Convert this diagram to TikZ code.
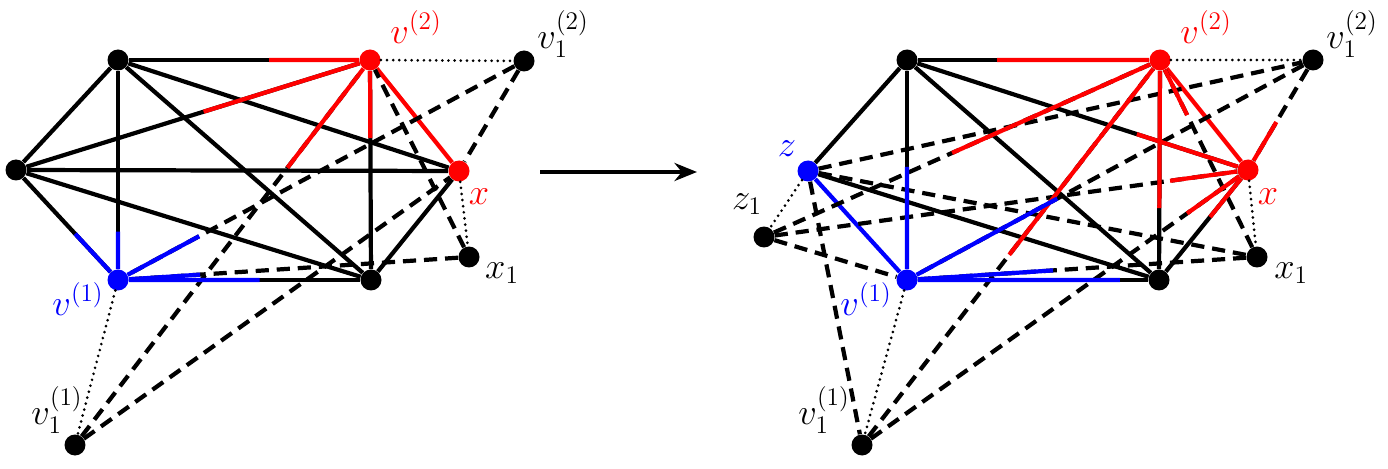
\documentclass[tikz,border=0pt]{standalone}
\usepackage{amsmath}
\usepackage{xcolor}
\usetikzlibrary{arrows.meta,calc}

\begin{document}
\begin{tikzpicture}[x=0.02cm,y=-0.02cm,>={Stealth[length=4.5mm,width=3.6mm]},
  vtx/.style={circle,fill=black,inner sep=0pt,minimum size=0.42cm},
  edge/.style={line width=2.4pt},
  dashedge/.style={line width=2.4pt,dash pattern=on 7.5pt off 4.5pt},
  dotedge/.style={line width=1.7pt,line cap=round,dash pattern=on 0pt off 3.5pt},
  lbl/.style={font=\huge}]
  \useasboundingbox (0,0) rectangle (1388,469);

  % left graph
  \node[vtx] (a) at (118,60) {};
  \node[vtx,fill=red] (v2) at (370,60) {};
  \node[vtx] (v21) at (524,61) {};
  \node[vtx] (b) at (16,170) {};
  \node[vtx,fill=red] (x) at (459,171) {};
  \node[vtx] (x1) at (469,257) {};
  \node[vtx,fill=blue] (v1) at (118,280) {};
  \node[vtx] (c) at (371,280) {};
  \node[vtx] (v11) at (75,445) {};

  \node[lbl,red] (lv2) at (416,27) {$v^{(2)}$};
  \node[lbl] (lv21) at (563,34) {$v_1^{(2)}$};
  \node[lbl,red] (lx) at (479,197) {$x$};
  \node[lbl] (lx1) at (502,273) {$x_1$};
  \node[lbl,blue] (lv1) at (78,299) {$v^{(1)}$};
  \node[lbl] (lv11) at (57,410) {$v_1^{(1)}$};

  \draw[edge] (a) -- (b);
  \draw[edge] (a) -- (v1);
  \draw[edge] (a) -- (c);
  \draw[edge] (a) -- (x);
  \draw[edge] (a) -- (v2);
  \draw[edge] (b) -- (v1);
  \draw[edge] (b) -- (c);
  \draw[edge] (b) -- (x);
  \draw[edge] (b) -- (v2);
  \draw[edge] (v1) -- (c);
  \draw[edge] (c) -- (x);
  \draw[edge] (c) -- (v2);
  \draw[edge,red] (x) -- (v2);

  \draw[dashedge] (v21) -- (x);
  \draw[dashedge] (v21) -- (v1);
  \draw[dashedge] (v11) -- (v2);
  \draw[dashedge] (v11) -- (x);
  \draw[dashedge] (x1) -- (v2);
  \draw[dashedge] (x1) -- (v1);

  \draw[dotedge] (v2) -- (v21);
  \draw[dotedge] (x) -- (x1);
  \draw[dotedge] (v1) -- (v11);

  \draw[edge,red] (v2) -- ($(v2)!0.40!(a)$);
  \draw[edge,red] (v2) -- ($(v2)!0.47!(b)$);
  \draw[edge,red] (v2) -- ($(v2)!0.355!(c)$);
  \draw[edge,red] (v2) -- ($(v2)!0.28!(v11)$);
  \draw[edge,blue] (v1) -- ($(v1)!0.22!(a)$);
  \draw[edge,blue] (v1) -- ($(v1)!0.42!(b)$);
  \draw[edge,blue] (v1) -- ($(v1)!0.56!(c)$);
  \draw[edge,blue] (v1) -- ($(v1)!0.20!(v21)$);
  \draw[edge,blue] (v1) -- ($(v1)!0.234!(x1)$);

  % arrow
  \coordinate (arrs) at (540,172);
  \coordinate (arre) at (697,172);
  \draw[->,line width=2.3pt] (arrs) -- (arre);

  % right graph
  \node[vtx] (ra) at (907,60) {};
  \node[vtx,fill=red] (rv2) at (1160,60) {};
  \node[vtx] (rv21) at (1313,60) {};
  \node[vtx,fill=blue] (rz) at (808,171) {};
  \node[vtx] (rz1) at (764,237) {};
  \node[vtx,fill=red] (rx) at (1248,170) {};
  \node[vtx] (rx1) at (1257,257) {};
  \node[vtx,fill=blue] (rv1) at (907,280) {};
  \node[vtx] (rc) at (1159,280) {};
  \node[vtx] (rv11) at (862,445) {};

  \node[lbl,red] (lrv2) at (1206,27) {$v^{(2)}$};
  \node[lbl] (lrv21) at (1352,34) {$v_1^{(2)}$};
  \node[lbl,red] (lrx) at (1268,197) {$x$};
  \node[lbl] (lrx1) at (1291,273) {$x_1$};
  \node[lbl,blue] (lrv1) at (866,299) {$v^{(1)}$};
  \node[lbl] (lrv11) at (824,410) {$v_1^{(1)}$};
  \node[lbl,blue] (lrz) at (787,149) {$z$};
  \node[lbl] (lrz1) at (747,204) {$z_1$};

  \draw[edge] (ra) -- (rz);
  \draw[edge] (ra) -- (rv1);
  \draw[edge] (ra) -- (rc);
  \draw[edge] (ra) -- (rx);
  \draw[edge] (ra) -- (rv2);
  \draw[edge] (rz) -- (rc);
  \draw[edge,blue] (rz) -- (rv1);
  \draw[edge] (rv1) -- (rc);
  \draw[edge] (rc) -- (rx);
  \draw[edge] (rc) -- (rv2);
  \draw[edge,red] (rx) -- (rv2);

  \draw[dashedge] (rz1) -- (rv2);
  \draw[dashedge] (rz1) -- (rx);
  \draw[dashedge] (rz1) -- (rv1);
  \draw[dashedge] (rz) -- (rv21);
  \draw[dashedge] (rz) -- (rx1);
  \draw[dashedge] (rz) -- (rv11);
  \draw[dashedge] (rv21) -- (rx);
  \draw[dashedge] (rv21) -- (rv1);
  \draw[dashedge] (rv11) -- (rv2);
  \draw[dashedge] (rv11) -- (rx);
  \draw[dashedge] (rx1) -- (rv2);
  \draw[dashedge] (rx1) -- (rv1);

  \draw[dotedge] (rz) -- (rz1);
  \draw[dotedge] (rv2) -- (rv21);
  \draw[dotedge] (rx) -- (rx1);
  \draw[dotedge] (rv1) -- (rv11);

  \draw[edge,red] (rv2) -- ($(rv2)!0.644!(ra)$);
  \draw[edge,red] (rv2) -- ($(rv2)!0.673!(rc)$);
  \draw[edge,red] (rv2) -- ($(rv2)!0.525!(rz1)$);
  \draw[edge,red] (rv2) -- ($(rv2)!0.506!(rv11)$);
  \draw[edge,red] (rv2) -- ($(rv2)!0.28!(rx1)$);
  \draw[edge,red] (rx) -- ($(rx)!0.326!(ra)$);
  \draw[edge,red] (rx) -- ($(rx)!0.161!(rz1)$);
  \draw[edge,red] (rx) -- ($(rx)!0.158!(rv11)$);
  \draw[edge,red] (rx) -- ($(rx)!0.427!(rc)$);
  \draw[edge,red] (rx) -- ($(rx)!0.436!(rv21)$);
  \draw[edge,blue] (rv1) -- ($(rv1)!0.514!(ra)$);
  \draw[edge,blue] (rv1) -- ($(rv1)!0.37!(rv21)$);
  \draw[edge,blue] (rv1) -- ($(rv1)!0.417!(rx1)$);
  \draw[edge,blue] (rv1) -- ($(rv1)!0.845!(rc)$);
\end{tikzpicture}
\end{document}
